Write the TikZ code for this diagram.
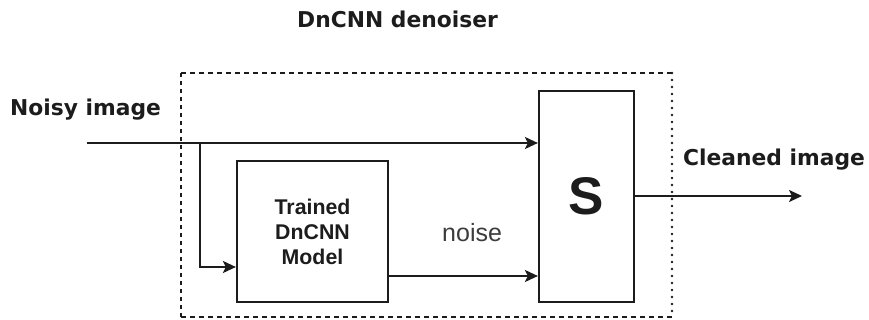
\documentclass[tikz,border=0pt]{standalone}
\usepackage{fontspec}
\setmainfont{DejaVu Sans}
\newfontfamily\blockfont{Liberation Sans}
\usetikzlibrary{arrows.meta}
\definecolor{ink}{HTML}{1C1C1C}
\definecolor{softink}{HTML}{3C3C3C}
\tikzset{
  wire/.style={draw=ink, line width=2.2pt},
  flow/.style={wire, -{Stealth[length=13pt,width=12pt,inset=3pt]}},
  block/.style={draw=ink, line width=2.2pt, rectangle, inner sep=0pt, text=ink},
  label/.style={inner sep=0pt, text=ink, font=\bfseries\fontsize{21.8}{25}\selectfont},
}
\begin{document}
\begin{tikzpicture}[x=1pt, y=-1pt]
  \useasboundingbox (0,0) rectangle (869,320);

  % denoiser frame: dashed top/bottom/left, dotted right side
  \draw[ink, line width=1.8pt, dash pattern=on 5pt off 4pt] (672,73) -- (181,73);
  \draw[ink, line width=1.8pt, dash pattern=on 5pt off 4pt] (181,317) -- (672,317);
  \draw[ink, line width=1.8pt, dash pattern=on 4pt off 4pt] (181,73) -- (181,317);
  \draw[ink, line width=2.8pt, line cap=round, dash pattern=on 0pt off 7pt] (672,73) -- (672,317);

  \node[label, anchor=base] (title) at (397.5,28) {DnCNN denoiser};
  \node[label, anchor=base west] (noisy) at (10,116) {Noisy image};
  \node[label, anchor=base west] (clean) at (683,166) {Cleaned image};

  \node[block, minimum width=151pt, minimum height=141pt, align=center,
        font=\blockfont\bfseries\fontsize{21.3}{25}\selectfont] (dncnn) at (312.5,231.5)
        {Trained\\DnCNN\\Model};
  \node[block, minimum width=95pt, minimum height=211pt,
        font=\blockfont\bfseries\fontsize{53}{53}\selectfont] (sum) at (586.5,196.5) {S};

  \node[inner sep=0pt, anchor=base west, text=softink,
        font=\blockfont\fontsize{25}{28}\selectfont] (noiselbl) at (442,241) {noise};

  \coordinate (src) at (87,143);
  \coordinate (split) at (200,143);
  \coordinate (dst) at (802,196);

  \draw[flow] (src) -- (src -| sum.west);
  \draw[flow] (split) |- ([yshift=-35.5pt]dncnn.west);
  \draw[flow] ([yshift=-44.5pt]dncnn.east) -- ([yshift=-44.5pt]dncnn.east -| sum.west);
  \draw[flow] (sum.east |- dst) -- (dst);
\end{tikzpicture}
\end{document}
